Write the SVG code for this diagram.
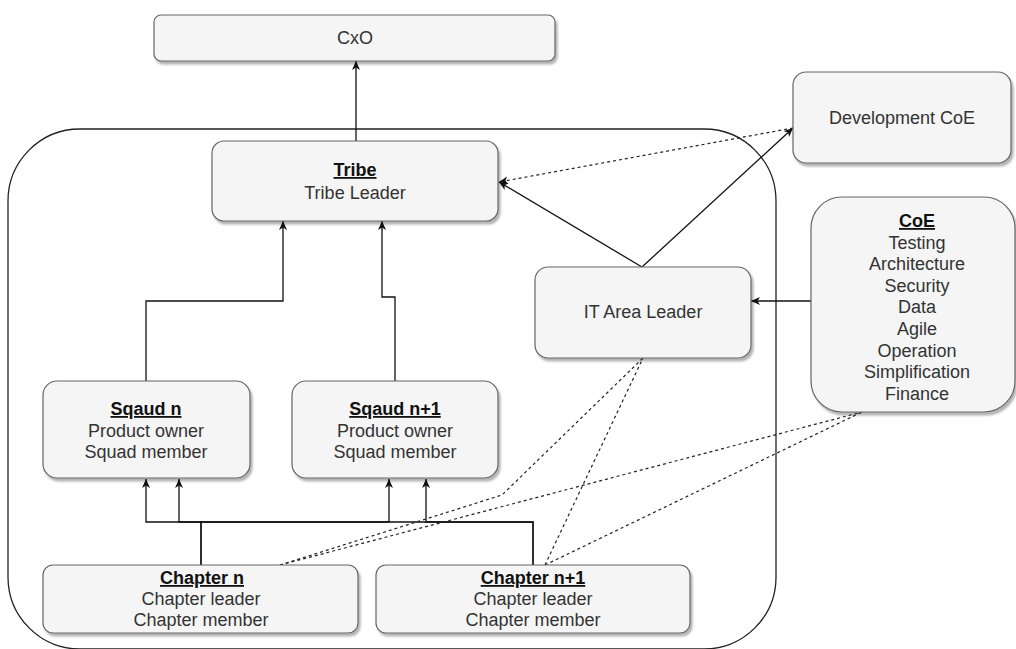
<svg xmlns="http://www.w3.org/2000/svg" width="1016" height="649" viewBox="0 0 1016 649">
  <style>
    .box { fill: #f5f5f5; stroke: #666666; stroke-width: 1.2; filter: url(#shadow); }
    .frame { fill: none; stroke: #222222; stroke-width: 1.3; }
    .t { font-family: "Liberation Sans", Arial, sans-serif; font-size: 18px; fill: #333333; text-anchor: middle; }
    .b { font-weight: bold; fill: #111111; text-decoration: underline; }
    .e { fill: none; stroke: #111111; stroke-width: 1.3; }
    .arr { marker-end: url(#arrow); }
    .d { fill: none; stroke: #222222; stroke-width: 1.2; stroke-dasharray: 3 3; }
  </style>
  <defs>
    <filter id="shadow" x="-10%" y="-10%" width="130%" height="130%">
      <feDropShadow dx="2" dy="3" stdDeviation="0.8" flood-color="#000000" flood-opacity="0.3"/>
    </filter>
    <marker id="arrow" markerUnits="userSpaceOnUse" markerWidth="10" markerHeight="9" refX="9" refY="4" orient="auto">
      <path d="M0 0 L9 4 L0 8 L2.5 4 Z" fill="#111111"/>
    </marker>
  </defs>

  <rect width="1016" height="649" fill="#ffffff"/>

  <!-- tribe boundary -->
  <g id="tribe-frame">
    <rect class="frame" x="8" y="129" width="768" height="520" rx="72" ry="72"/>
  </g>

  <!-- connectors -->
  <g id="connectors">
    <path class="e arr" d="M356 141 V61"/>
    <path class="e arr" d="M146 381 V301 H283 V221"/>
    <path class="e arr" d="M395 381 V297 H382 V221"/>
    <path class="e arr" d="M642 267 L499 182"/>
    <path class="e arr" d="M642 267 L793 128"/>
    <path class="d arr" d="M793 128 L499 182"/>
    <path class="e arr" d="M811 301 H751"/>
    <path class="e arr" d="M201 565 V522 H146 V479"/>
    <path class="e arr" d="M201 565 V522 H389 V479"/>
    <path class="e arr" d="M533 565 V522 H179 V479"/>
    <path class="e arr" d="M533 565 V522 H426 V479"/>
    <path class="d" d="M280 565 L502 495 L643 358"/>
    <path class="d" d="M545 565 L643 358"/>
    <path class="d" d="M280 565 L862 412"/>
    <path class="d" d="M545 565 L862 412"/>
  </g>

  <g id="cxo">
    <rect class="box" x="154" y="15" width="401" height="46" rx="7"/>
    <text class="t" x="355" y="44">CxO</text>
  </g>

  <g id="tribe">
    <rect class="box" x="212" y="141" width="286" height="80" rx="12"/>
    <text class="t b" x="355" y="176">Tribe</text>
    <text class="t" x="355" y="199">Tribe Leader</text>
  </g>

  <g id="development-coe">
    <rect class="box" x="793" y="72" width="218" height="91" rx="13"/>
    <text class="t" x="902" y="124">Development CoE</text>
  </g>

  <g id="coe">
    <rect class="box" x="811" y="197" width="204" height="215" rx="31"/>
    <text class="t b" x="917" y="227">CoE</text>
    <text class="t" x="917" y="249">Testing</text>
    <text class="t" x="917" y="270">Architecture</text>
    <text class="t" x="917" y="292">Security</text>
    <text class="t" x="917" y="313">Data</text>
    <text class="t" x="917" y="335">Agile</text>
    <text class="t" x="917" y="357">Operation</text>
    <text class="t" x="917" y="378">Simplification</text>
    <text class="t" x="917" y="400">Finance</text>
  </g>

  <g id="it-area-leader">
    <rect class="box" x="535" y="267" width="216" height="91" rx="13"/>
    <text class="t" x="643" y="318">IT Area Leader</text>
  </g>

  <g id="squad-n">
    <rect class="box" x="43" y="381" width="207" height="97" rx="14"/>
    <text class="t b" x="146" y="415">Sqaud n</text>
    <text class="t" x="146" y="437">Product owner</text>
    <text class="t" x="146" y="458">Squad member</text>
  </g>

  <g id="squad-n1">
    <rect class="box" x="292" y="381" width="206" height="97" rx="14"/>
    <text class="t b" x="395" y="415">Sqaud n+1</text>
    <text class="t" x="395" y="437">Product owner</text>
    <text class="t" x="395" y="458">Squad member</text>
  </g>

  <g id="chapter-n">
    <rect class="box" x="43" y="565" width="315" height="68" rx="10"/>
    <text class="t b" x="202" y="584">Chapter n</text>
    <text class="t" x="201" y="605">Chapter leader</text>
    <text class="t" x="201" y="626">Chapter member</text>
  </g>

  <g id="chapter-n1">
    <rect class="box" x="376" y="565" width="314" height="68" rx="10"/>
    <text class="t b" x="533" y="584">Chapter n+1</text>
    <text class="t" x="533" y="605">Chapter leader</text>
    <text class="t" x="533" y="626">Chapter member</text>
  </g>
</svg>
